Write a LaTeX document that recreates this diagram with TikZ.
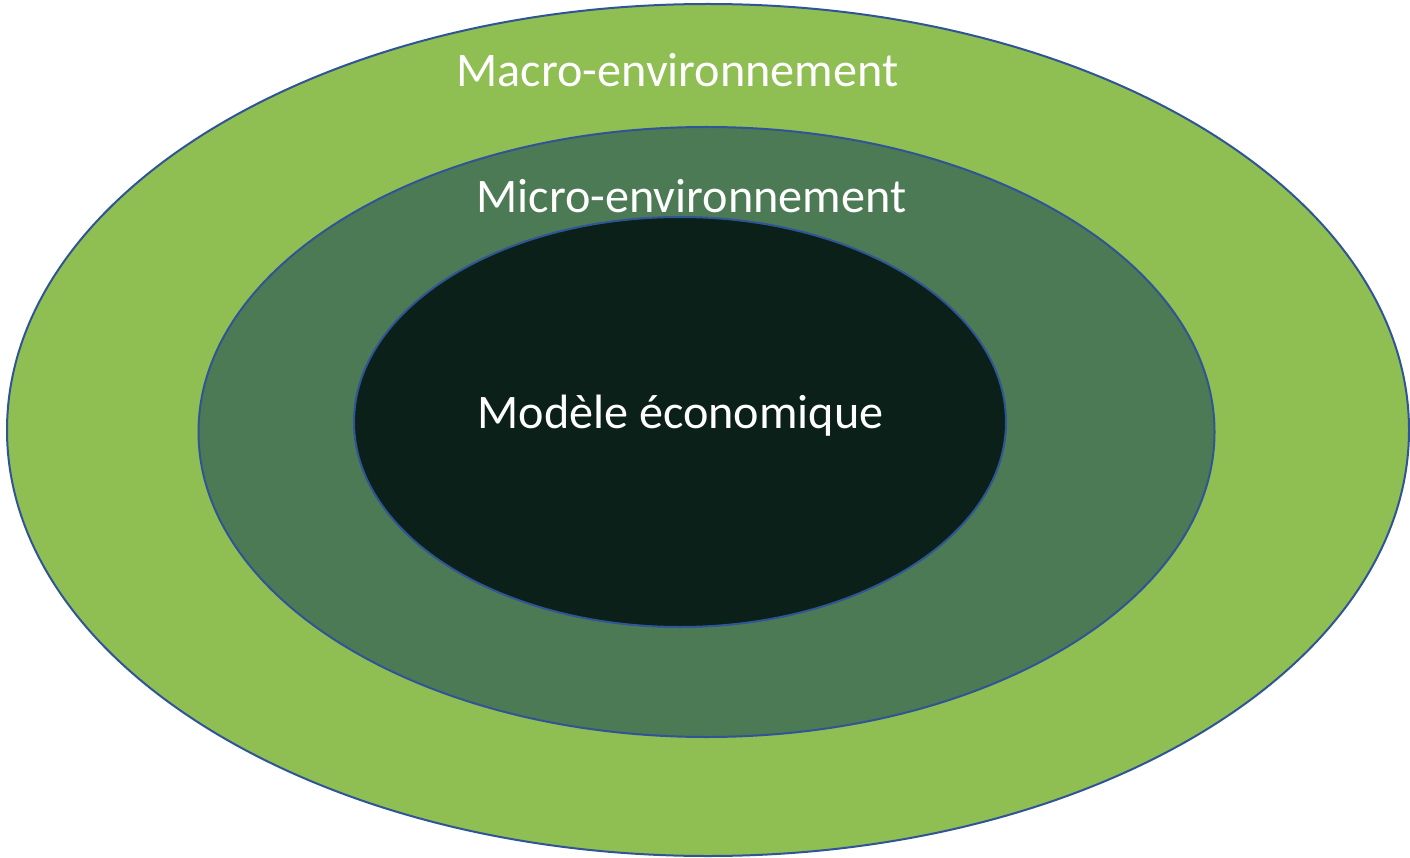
\documentclass[tikz,border=0pt]{standalone}
\usepackage{fontspec}
\setmainfont{Carlito}
\definecolor{outerg}{HTML}{8FBE53}
\definecolor{midg}{HTML}{4C7A54}
\definecolor{innerg}{HTML}{0B2019}
\definecolor{edgeb}{HTML}{2F5597}
\begin{document}
\begin{tikzpicture}[x=1pt,y=-1pt,
  ring/.style={draw=edgeb,line width=2pt},
  lbl/.style={text=white,font=\fontsize{48.2}{58}\selectfont,anchor=base,inner sep=0pt}]
\useasboundingbox (0,0) rectangle (1410,858);
\draw[ring,fill=outerg] (708,430) ellipse [x radius=701, y radius=426];
\draw[ring,fill=midg] (706.5,432) ellipse [x radius=508, y radius=305];
\draw[ring,fill=innerg] (680,422) ellipse [x radius=326, y radius=205];
\node[lbl] (macro) at (677.5,87) {Macro-environnement};
\node[lbl] (micro) at (691.5,213) {Micro-environnement};
\node[lbl] (modele) at (680.5,428) {Modèle économique};
\end{tikzpicture}
\end{document}
